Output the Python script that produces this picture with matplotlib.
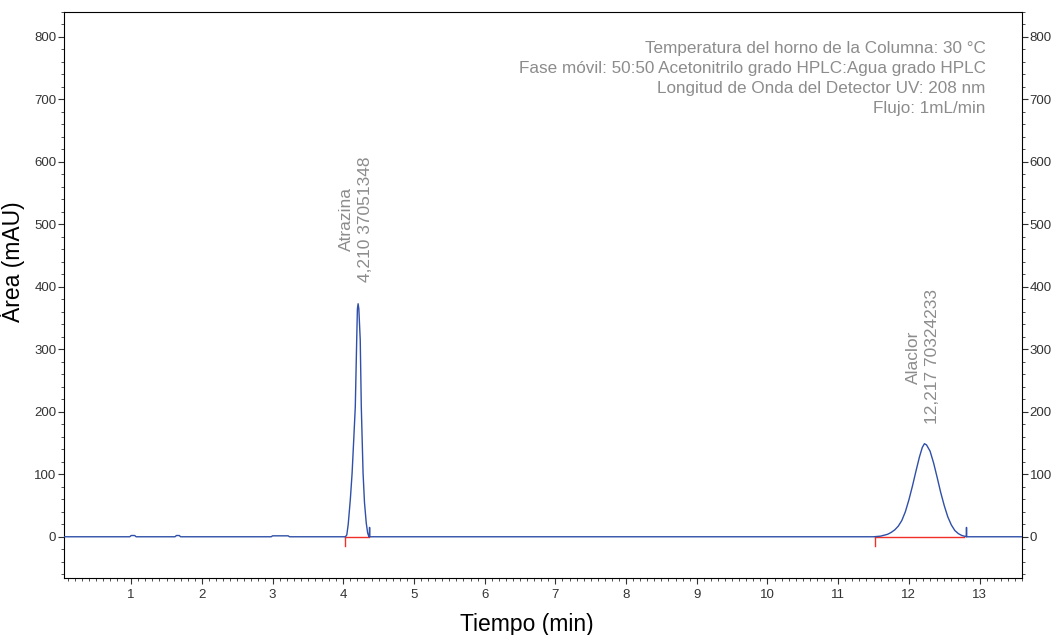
import matplotlib
matplotlib.use("Agg")
import matplotlib.pyplot as plt
from matplotlib.ticker import MultipleLocator

plt.rcParams['font.family'] = ['Liberation Sans', 'DejaVu Sans']

# chromatogram trace (min, mAU)
tiempo = [0.05, 0.98, 1.00, 1.05, 1.07, 1.62, 1.64, 1.68, 1.70, 2.98, 3.00, 3.22, 3.24,
          4.03, 4.05, 4.07, 4.10, 4.125, 4.15, 4.17, 4.19, 4.20, 4.21, 4.22, 4.24, 4.255,
          4.28, 4.30, 4.325, 4.345, 4.36, 4.368, 4.372, 4.376, 4.40,
          11.50, 11.60, 11.70, 11.75, 11.80, 11.85, 11.90, 11.95, 12.00, 12.05, 12.10,
          12.15, 12.19, 12.22, 12.25, 12.30, 12.35, 12.40, 12.45, 12.50, 12.55, 12.60,
          12.65, 12.70, 12.75, 12.80, 12.812, 12.815, 12.818, 13.60]
senal = [0, 0, 2, 2, 0, 0, 2, 2, 0, 0, 1.5, 1.5, 0,
         0, 3, 20, 60, 102, 160, 208, 315, 365, 373, 365, 315, 208,
         102, 55, 22, 6, 1, 0, 15, 0, 0,
         0, 1, 4, 7, 11, 17, 26, 40, 59, 81, 105,
         128, 143, 149, 147, 137, 118, 95, 71, 50, 32, 19,
         10, 5, 2, 0.5, 0, 15, 0, 0]

# integration baselines (start, end)
base_ini = [4.03, 11.52]
base_fin = [4.36, 12.78]

picos = ["Atrazina\n4,210 37051348", "Alaclor\n12,217 70324233"]
pico_t = [4.18, 12.20]
pico_y = [408, 180]

condiciones = ["Temperatura del horno de la Columna: 30 °C",
               "Fase móvil: 50:50 Acetonitrilo grado HPLC:Agua grado HPLC",
               "Longitud de Onda del Detector UV: 208 nm",
               "Flujo: 1mL/min"]

fig = plt.figure(figsize=(10.51, 6.35), dpi=100)
ax = fig.add_axes([64 / 1051, 1 - 578 / 635, 958 / 1051, 566 / 635])

ax.plot(tiempo, senal, color='#2f4fa8', lw=1.0, zorder=3)
for a, b in zip(base_ini, base_fin):
    ax.plot([a, b], [0, 0], color='#f03028', lw=1.0, zorder=2)
    ax.plot([a, a], [0, -15], color='#f03028', lw=1.0, zorder=2)

for txt, x, y in zip(picos, pico_t, pico_y):
    ax.text(x, y, txt, rotation=90, ha='center', va='bottom', multialignment='center',
            fontsize=12.5, color='#8c8c8c', linespacing=1.4)

ax.text(0.962, 0.948, "\n".join(condiciones), transform=ax.transAxes, ha='right', va='top',
        fontsize=12.3, color='#8c8c8c', linespacing=1.4)

ax.set_xlim(0.05, 13.6)
ax.set_ylim(-66, 840)
ax.xaxis.set_major_locator(MultipleLocator(1))
ax.xaxis.set_minor_locator(MultipleLocator(0.1))
ax.yaxis.set_major_locator(MultipleLocator(100))
ax.yaxis.set_minor_locator(MultipleLocator(20))
ax.tick_params(which='both', direction='out', labelsize=9.5, color='#333333',
               labelcolor='#333333')
ax.tick_params(axis='y', which='both', right=True, labelright=True, pad=1.5)
ax.tick_params(which='major', length=4)
ax.tick_params(which='minor', length=2.5)
ax.tick_params(axis='x', pad=4)

ax.set_xlabel("Tiempo (min)", fontsize=16.5)
ax.set_ylabel("Área (mAU)", fontsize=16.5)
ax.xaxis.set_label_coords(0.483, -0.062)
ax.yaxis.set_label_coords(-0.041, 0.558)

fig.savefig("out.png", dpi=100)
